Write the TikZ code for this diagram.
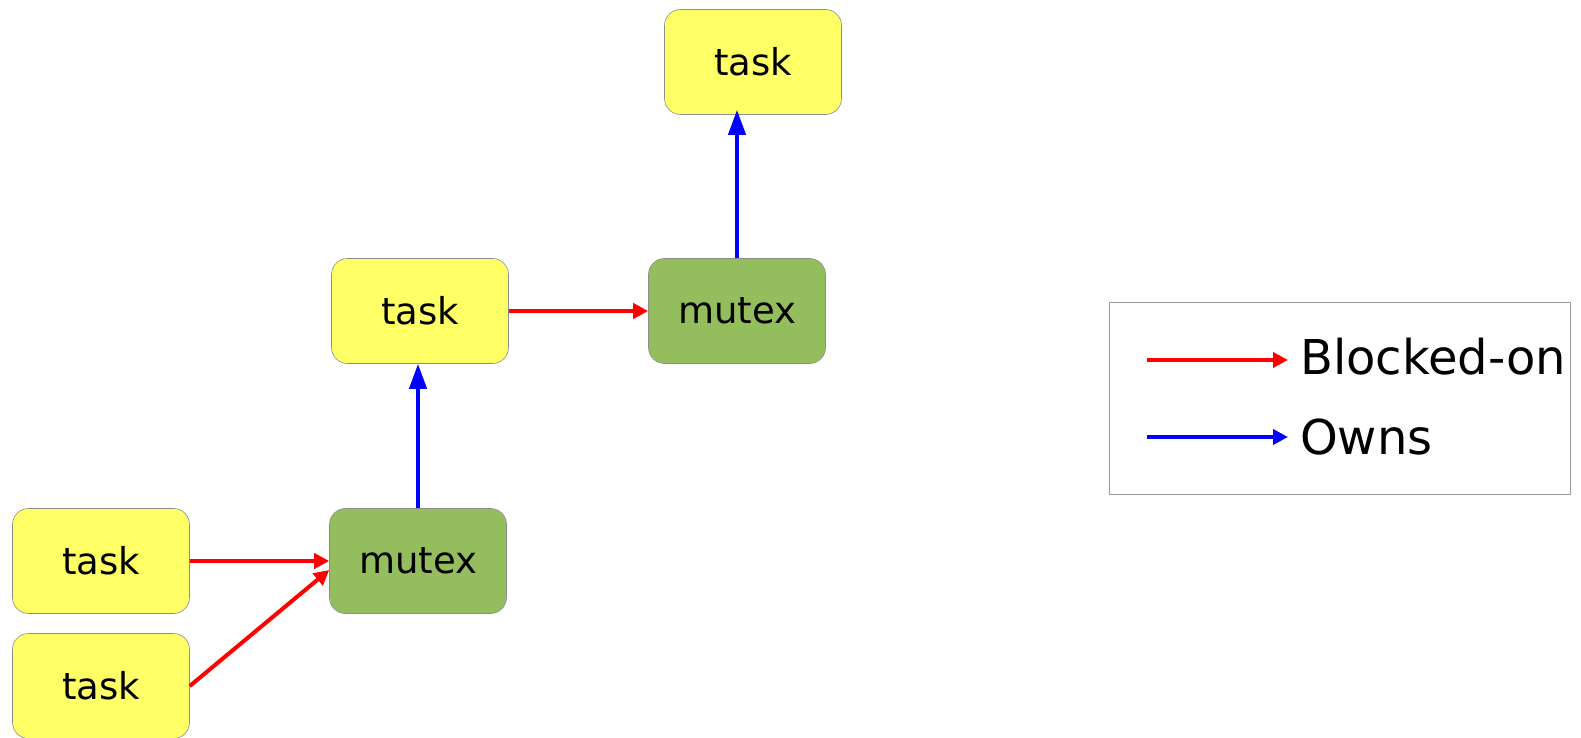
\documentclass[tikz,border=0pt]{standalone}
\usepackage{fontspec}
\setmainfont{DejaVu Sans}
\usetikzlibrary{arrows.meta}
\definecolor{taskyellow}{RGB}{255,255,102}
\definecolor{mutexgreen}{RGB}{148,189,94}
\begin{document}
\begin{tikzpicture}[x=1pt,y=-1pt]
  \useasboundingbox (0,0) rectangle (1581,738);
  \begin{scope}[every node/.style={draw=black!45,line width=0.6pt,rounded corners=16pt,
      minimum width=177pt,minimum height=105pt,font=\fontsize{37}{40}\selectfont}]
  \node[fill=taskyellow] (t1) at (753,62) {task};
  \node[fill=taskyellow] (t2) at (420,311) {task};
  \node[fill=mutexgreen] (m1) at (737,311) {mutex};
  \node[fill=mutexgreen] (m2) at (418,561) {mutex};
  \node[fill=taskyellow] (t3) at (101,561) {task};
  \node[fill=taskyellow] (t4) at (101,686) {task};
  \end{scope}
  \begin{scope}[every edge/.style={draw,line width=4pt}]
  \path[red,-{Triangle[length=15pt,width=15pt]}] (t2) edge (m1);
  \path[red,-{Triangle[length=15pt,width=15pt]}] (t3) edge (m2);
  \path[red,-{Triangle[length=15pt,width=15pt]}] (t4.east) edge ([yshift=-9pt]m2.west);
  \path[blue,-{Triangle[length=25pt,width=17pt]}] (m2) edge (m2 |- t2.south);
  \path[blue,-{Triangle[length=25pt,width=17pt]}] (m1) edge ([yshift=5pt]m1 |- t1.south);
  \end{scope}
  % legend
  \node[draw=black!40,line width=0.8pt,minimum width=461pt,minimum height=192pt] (key) at (1339.5,398) {};
  \coordinate (r0) at (1147,360);
  \coordinate (r1) at (1288,360);
  \coordinate (b0) at (1147,437);
  \coordinate (b1) at (1288,437);
  \begin{scope}[every node/.style={anchor=west,inner sep=0pt,font=\fontsize{48}{52}\selectfont}]
  \node (lblock) at (1300,357) {Blocked-on};
  \node (lown) at (1300,437) {Owns};
  \end{scope}
  \draw[red,line width=4pt,-{Triangle[length=15pt,width=15pt]}] (r0) -- (r1);
  \draw[blue,line width=4pt,-{Triangle[length=15pt,width=15pt]}] (b0) -- (b1);
\end{tikzpicture}
\end{document}
